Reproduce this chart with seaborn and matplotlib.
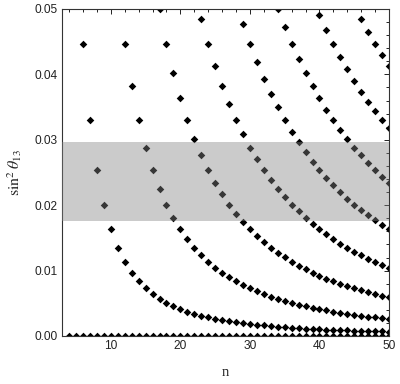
import pandas as pd
import seaborn as sns
import matplotlib.pyplot as plt
from matplotlib.ticker import MultipleLocator, FormatStrFormatter

# sin^2 theta13, one list per curve (n runs up to 50)
n_zero = list(range(4, 51))
s_zero = [0.0] * len(n_zero)

n_k1 = list(range(6, 51))
s_k1 = [0.04466, 0.03301, 0.02537, 0.02010, 0.01631, 0.01350, 0.01136, 0.00969,
        0.00836, 0.00728, 0.00641, 0.00568, 0.00506, 0.00455, 0.00410, 0.00372,
        0.00339, 0.00311, 0.00285, 0.00263, 0.00243, 0.00225, 0.00210, 0.00195,
        0.00183, 0.00171, 0.00161, 0.00151, 0.00142, 0.00134, 0.00127, 0.00120,
        0.00114, 0.00108, 0.00103, 0.00098, 0.00093, 0.00089, 0.00085, 0.00081,
        0.00078, 0.00074, 0.00071, 0.00069, 0.00066]

n_k2 = list(range(12, 51))
s_k2 = [0.04466, 0.03818, 0.03301, 0.02882, 0.02537, 0.02251, 0.02010, 0.01806,
        0.01631, 0.01481, 0.01350, 0.01236, 0.01136, 0.01047, 0.00969, 0.00899,
        0.00836, 0.00779, 0.00728, 0.00682, 0.00641, 0.00602, 0.00568, 0.00536,
        0.00506, 0.00480, 0.00455, 0.00432, 0.00410, 0.00391, 0.00372, 0.00355,
        0.00339, 0.00324, 0.00311, 0.00297, 0.00285, 0.00274, 0.00263]

n_k3 = list(range(17, 51))
s_k3 = [0.04993, 0.04466, 0.04018, 0.03633, 0.03301, 0.03012, 0.02760, 0.02537,
        0.02341, 0.02166, 0.02010, 0.01871, 0.01745, 0.01631, 0.01529, 0.01435,
        0.01350, 0.01273, 0.01201, 0.01136, 0.01076, 0.01020, 0.00969, 0.00921,
        0.00877, 0.00836, 0.00798, 0.00762, 0.00728, 0.00697, 0.00668, 0.00641,
        0.00615, 0.00590]

n_k4 = list(range(23, 51))
s_k4 = [0.04853, 0.04466, 0.04123, 0.03818, 0.03546, 0.03301, 0.03081, 0.02882,
        0.02701, 0.02537, 0.02388, 0.02251, 0.02126, 0.02010, 0.01904, 0.01806,
        0.01715, 0.01631, 0.01554, 0.01481, 0.01413, 0.01350, 0.01291, 0.01236,
        0.01184, 0.01136, 0.01090, 0.01047]

n_k5 = list(range(29, 51))
s_k5 = [0.04771, 0.04466, 0.04189, 0.03936, 0.03705, 0.03495, 0.03301, 0.03123,
        0.02959, 0.02808, 0.02667, 0.02537, 0.02417, 0.02304, 0.02200, 0.02102,
        0.02010, 0.01925, 0.01844, 0.01769, 0.01698, 0.01631]

n_k6 = list(range(34, 51))
s_k6 = [0.04993, 0.04718, 0.04466, 0.04233, 0.04018, 0.03818, 0.03633, 0.03461,
        0.03301, 0.03152, 0.03012, 0.02882, 0.02760, 0.02645, 0.02537, 0.02436,
        0.02341]

n_k7 = list(range(40, 51))
s_k7 = [0.04912, 0.04681, 0.04466, 0.04265, 0.04077, 0.03902, 0.03737, 0.03583,
        0.03438, 0.03301, 0.03173]

n_k8 = list(range(46, 51))
s_k8 = [0.04853, 0.04653, 0.04466, 0.04289, 0.04123]

# allowed sin^2 theta13 range (shaded band)
band_lo, band_hi = 0.0176, 0.0296

curves = [(n_zero, s_zero), (n_k1, s_k1), (n_k2, s_k2), (n_k3, s_k3), (n_k4, s_k4),
          (n_k5, s_k5), (n_k6, s_k6), (n_k7, s_k7), (n_k8, s_k8)]
df = pd.concat([pd.DataFrame({'n': a, 's': b}) for a, b in curves], ignore_index=True)

sns.set_style('white')
plt.rcParams['font.family'] = ['Liberation Sans', 'DejaVu Sans']
plt.rcParams['mathtext.fontset'] = 'stix'

fig = plt.figure(figsize=(4, 3.84), dpi=100)
ax = fig.add_axes([0.1555, 0.125, 0.817, 0.8516])

sns.scatterplot(data=df, x='n', y='s', marker='D', color='black', s=15,
                linewidth=0, ax=ax, zorder=2)
ax.axhspan(band_lo, band_hi, color=(0.52, 0.52, 0.52), alpha=0.42, lw=0, zorder=3)

ax.set_xlim(3, 50)
ax.set_ylim(0, 0.05)
ax.xaxis.set_major_locator(MultipleLocator(10))
ax.xaxis.set_minor_locator(MultipleLocator(2))
ax.yaxis.set_major_locator(MultipleLocator(0.01))
ax.yaxis.set_minor_locator(MultipleLocator(0.002))
ax.yaxis.set_major_formatter(FormatStrFormatter('%.2f'))
ax.tick_params(which='both', direction='in', top=True, right=True,
               colors='#222222', labelsize=8.6, width=0.7)
ax.tick_params(which='major', length=3.6, pad=3)
ax.tick_params(which='minor', length=2.2)
for sp in ax.spines.values():
    sp.set_color('#333333')
    sp.set_linewidth(0.8)

ax.set_xlabel('n', family='Liberation Serif', fontsize=10.5, labelpad=10)
ax.set_ylabel(r'$\mathrm{sin}^2\,\theta_{13}$', fontsize=11.5, labelpad=8)

fig.savefig('out.png', dpi=100)
